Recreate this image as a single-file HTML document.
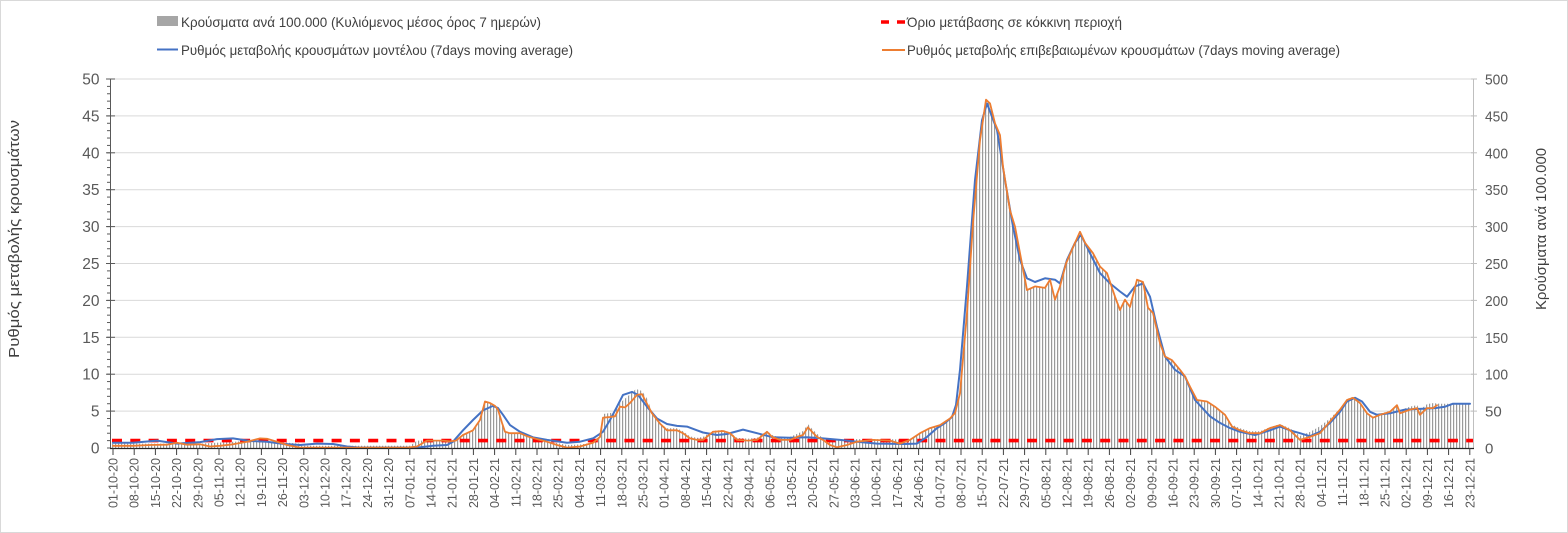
<!DOCTYPE html>
<html>
<head>
<meta charset="utf-8">
<style>
html,body{margin:0;padding:0;background:#fff;}
svg{display:block;font-family:"Liberation Sans","DejaVu Sans",sans-serif;}
</style>
</head>
<body>
<svg width="1568" height="533" viewBox="0 0 1568 533" xmlns="http://www.w3.org/2000/svg">
<defs>
  <pattern id="bars" patternUnits="userSpaceOnUse" x="112" y="0" width="3" height="20">
    <rect x="0" y="0" width="1.2" height="20" fill="#9a9a9a"/>
  </pattern>
  <pattern id="xt" patternUnits="userSpaceOnUse" x="112.5" y="448" width="21.2" height="7">
    <rect x="0" y="0" width="1" height="7" fill="#404040"/>
  </pattern>
  <pattern id="ymin" patternUnits="userSpaceOnUse" x="0" y="78.5" width="10" height="7.38">
    <rect x="0" y="0" width="10" height="1" fill="#595959"/>
  </pattern>
</defs>
<rect x="0.5" y="0.5" width="1567" height="532" fill="#fff" stroke="#d9d9d9" stroke-width="1"/>

<!-- gridlines -->
<g stroke="#d9d9d9" stroke-width="1">
  <line x1="111" y1="79" x2="1473" y2="79"/>
  <line x1="111" y1="115.9" x2="1473" y2="115.9"/>
  <line x1="111" y1="152.8" x2="1473" y2="152.8"/>
  <line x1="111" y1="189.7" x2="1473" y2="189.7"/>
  <line x1="111" y1="226.6" x2="1473" y2="226.6"/>
  <line x1="111" y1="263.5" x2="1473" y2="263.5"/>
  <line x1="111" y1="300.4" x2="1473" y2="300.4"/>
  <line x1="111" y1="337.3" x2="1473" y2="337.3"/>
  <line x1="111" y1="374.2" x2="1473" y2="374.2"/>
  <line x1="111" y1="411.1" x2="1473" y2="411.1"/>
</g>

<!-- bars -->
<polygon fill="url(#bars)" points="112,448 112,443.6 200,443.6 240,441.4 270,441.4 300,443.6 302,445.8 410,445.8 417,440.6 452,440.6 456,440.6 463,435.0 473,430.3 480,420.0 485,401.5 490,403.0 495,405.9 498,409.6 502,422.9 505,431.8 510,433.2 520,433.2 527,436.2 537,439.1 547,441.7 557,443.0 567,445.0 580,444.5 593,442.8 600,436.9 603,414 610,413 615,412 620,403 628,396 636,389 642,391 648,400 652,413.3 660,423.6 667,428.3 677,428.3 683,431.2 690,436.4 697,437.9 703,436.9 713,430.8 723,430.0 730,432.2 737,437.9 748,438.6 757,437.9 767,430.8 772,434.9 780,437.9 790,436.9 797,433.9 803,431.0 808,424.3 812,428.8 817,433.9 823,437.9 830,439.1 847,439.1 857,439.1 873,439.1 890,439.1 900,439.6 910,438.9 920,433.2 930,428.1 940,425.1 950,418.5 955,413 960,393.4 967,313.0 973,222.9 980,140.3 986,99.7 990,103.4 995,123.3 1000,135.1 1003,166.8 1010,210.4 1015,226.6 1020,253.2 1027,290.1 1035,286.4 1045,287.9 1050,279.7 1055,299.7 1060,286.4 1066,263.5 1075,242.8 1080,231.8 1085,242.8 1093,253.2 1100,266.5 1107,273.1 1115,296.7 1120,310.0 1125,299.7 1130,307.0 1137,279.7 1143,282.0 1148,307.8 1153,313.0 1160,343.2 1165,356.5 1172,360.2 1180,369.8 1185,376.4 1190,386.7 1197,400.0 1207,401.5 1215,406.7 1225,414.8 1232,424.6 1240,428.3 1250,431.2 1260,431.2 1270,427.1 1280,424.1 1290,428.3 1300,435.9 1310,431.9 1320,426.2 1330,418.4 1340,408.6 1347,399.0 1353,396.8 1360,402.0 1367,412.3 1373,416.7 1380,413.8 1390,410.8 1397,404.2 1400,410.3 1410,406.6 1417,405.1 1420,409.8 1427,404.1 1433,403.1 1440,403.7 1470,403.7 1471,448"/>

<!-- red threshold -->
<line x1="112" y1="440.6" x2="1473" y2="440.6" stroke="#ff0000" stroke-width="3.6" stroke-dasharray="10 8.3"/>

<!-- blue model line -->
<polyline fill="none" stroke="#4472c4" stroke-width="2" stroke-linejoin="round" stroke-linecap="round" points="113,442.8 133,442.8 157,440.6 177,443.6 200,442.1 217,439.1 233,438.4 250,441.0 267,441.7 283,443.9 300,445.0 317,443.6 333,444.0 347,446.5 360,447.6 417,447.6 433,445.8 447,445.0 453,441.7 463,430.3 473,420.0 483,410.4 493,405.9 498,408.1 503,414.8 510,425.1 520,431.8 533,437.3 547,439.9 567,442.8 580,441.7 593,438.4 603,431.8 610,420.0 617,406.7 623,394.9 632,391.9 638,394.9 647,406.7 657,418.5 667,424.0 677,425.9 687,426.6 697,430.3 703,432.5 717,435.0 727,434.0 743,429.6 757,433.2 773,437.3 790,437.7 807,437.3 823,438.4 840,439.9 857,441.7 877,443.6 897,443.9 905,444.0 917,443.6 927,436.9 937,428.1 945,423 952,417.0 956,405 960,369.8 967,286.4 975,180.1 982,120.3 987,103.4 992,116.6 997,129.9 1005,180.1 1013,226.6 1020,259.8 1027,278.3 1035,282.0 1045,278.3 1055,279.7 1060,283.4 1067,259.8 1075,242.8 1081,234.7 1090,253.2 1100,273.1 1110,283.4 1120,291.5 1127,296.7 1135,286.4 1143,283.4 1150,296.7 1157,327.0 1165,356.5 1175,369.8 1185,376.4 1195,400.0 1210,416.3 1220,422.9 1230,428.1 1240,431.8 1255,435.0 1270,430.3 1280,426.6 1290,430.3 1300,433.2 1310,436.2 1320,431.8 1330,422.9 1340,411.8 1347,401.5 1355,397.8 1362,401.5 1370,411.8 1377,414.8 1390,413.3 1405,409.6 1420,408.9 1435,408.1 1445,406.7 1453,403.7 1470,403.7"/>

<!-- orange confirmed line -->
<polyline fill="none" stroke="#ed7d31" stroke-width="1.8" stroke-linejoin="round" stroke-linecap="round" points="113,445.8 133,445.8 150,445.0 167,444.7 177,442.8 187,444.7 200,444.3 210,446.5 220,445.8 233,444.3 247,441.7 260,438.4 267,438.8 277,441.7 287,445.0 300,447.6 340,447.6 407,447.6 417,446.5 427,440.6 443,440.6 450,441.4 456,440.6 463,435.0 473,430.3 480,420.0 485,401.5 490,403.0 495,405.9 498,409.6 502,422.9 505,431.8 510,433.2 520,433.2 527,436.2 537,439.1 547,441.7 557,445.0 567,447.6 580,446.5 593,442.8 600,436.9 603,417.7 610,417.0 615,416.3 620,406.7 625,407.4 630,403.0 637,394.9 642,394.1 645,400.0 652,413.3 660,423.6 667,430.3 677,430.3 683,433.2 690,438.4 697,439.9 703,439.9 713,431.8 723,431.0 730,433.2 737,439.9 748,440.6 757,439.9 767,431.8 772,436.9 780,439.9 790,439.9 797,436.9 803,435.0 808,427.3 812,431.8 817,436.9 823,439.9 830,445.0 837,447.3 847,445.0 857,441.7 873,439.9 890,440.6 900,443.6 910,439.9 920,433.2 930,428.1 940,425.1 950,418.5 955,413 960,393.4 967,313.0 973,222.9 980,140.3 986,99.7 990,103.4 995,123.3 1000,135.1 1003,166.8 1010,210.4 1015,226.6 1020,253.2 1027,290.1 1035,286.4 1045,287.9 1050,279.7 1055,299.7 1060,286.4 1066,263.5 1075,242.8 1080,231.8 1085,242.8 1093,253.2 1100,266.5 1107,273.1 1115,296.7 1120,310.0 1125,299.7 1130,307.0 1137,279.7 1143,282.0 1148,307.8 1153,313.0 1160,343.2 1165,356.5 1172,360.2 1180,369.8 1185,376.4 1190,386.7 1197,400.0 1207,401.5 1215,406.7 1225,414.8 1232,426.6 1240,430.3 1250,433.2 1260,433.2 1270,428.1 1280,425.1 1290,430.3 1300,439.9 1310,436.9 1320,433.2 1330,421.4 1340,409.6 1347,400.0 1353,397.8 1360,403.0 1367,413.3 1373,417.7 1380,414.8 1390,411.8 1397,405.2 1400,413.3 1410,409.6 1417,408.1 1420,414.8 1427,408.1 1433,408.1 1437,405.2"/>

<!-- axes -->
<line x1="110.5" y1="79" x2="110.5" y2="448" stroke="#595959" stroke-width="1"/>
<rect x="107" y="78.5" width="3.5" height="370" fill="url(#ymin)"/>
<g stroke="#595959" stroke-width="1">
  <line x1="106" y1="79" x2="115" y2="79"/>
  <line x1="106" y1="115.9" x2="115" y2="115.9"/>
  <line x1="106" y1="152.8" x2="115" y2="152.8"/>
  <line x1="106" y1="189.7" x2="115" y2="189.7"/>
  <line x1="106" y1="226.6" x2="115" y2="226.6"/>
  <line x1="106" y1="263.5" x2="115" y2="263.5"/>
  <line x1="106" y1="300.4" x2="115" y2="300.4"/>
  <line x1="106" y1="337.3" x2="115" y2="337.3"/>
  <line x1="106" y1="374.2" x2="115" y2="374.2"/>
  <line x1="106" y1="411.1" x2="115" y2="411.1"/>
</g>
<line x1="1473.5" y1="79" x2="1473.5" y2="448" stroke="#bfbfbf" stroke-width="1"/>
<g stroke="#bfbfbf" stroke-width="1">
  <line x1="1471" y1="79" x2="1477" y2="79"/>
  <line x1="1471" y1="115.9" x2="1477" y2="115.9"/>
  <line x1="1471" y1="152.8" x2="1477" y2="152.8"/>
  <line x1="1471" y1="189.7" x2="1477" y2="189.7"/>
  <line x1="1471" y1="226.6" x2="1477" y2="226.6"/>
  <line x1="1471" y1="263.5" x2="1477" y2="263.5"/>
  <line x1="1471" y1="300.4" x2="1477" y2="300.4"/>
  <line x1="1471" y1="337.3" x2="1477" y2="337.3"/>
  <line x1="1471" y1="374.2" x2="1477" y2="374.2"/>
  <line x1="1471" y1="411.1" x2="1477" y2="411.1"/>
</g>
<line x1="110" y1="448.5" x2="1474" y2="448.5" stroke="#262626" stroke-width="1.3"/>
<rect x="112" y="448" width="1360" height="7" fill="url(#xt)"/>

<!-- left y labels -->
<g font-size="15.5" fill="#595959" text-anchor="end">
  <text x="99.5" y="453.5">0</text>
  <text x="99.5" y="416.6">5</text>
  <text x="99.5" y="379.7">10</text>
  <text x="99.5" y="342.8">15</text>
  <text x="99.5" y="305.9">20</text>
  <text x="99.5" y="269">25</text>
  <text x="99.5" y="232.1">30</text>
  <text x="99.5" y="195.2">35</text>
  <text x="99.5" y="158.3">40</text>
  <text x="99.5" y="121.4">45</text>
  <text x="99.5" y="84.5">50</text>
</g>
<!-- right y labels -->
<g font-size="15" fill="#595959">
  <text x="1485" y="453.5">0</text>
  <text x="1485" y="416.6">50</text>
  <text x="1485" y="379.7" textLength="23" lengthAdjust="spacingAndGlyphs">100</text>
  <text x="1485" y="342.8" textLength="23" lengthAdjust="spacingAndGlyphs">150</text>
  <text x="1485" y="305.9" textLength="23" lengthAdjust="spacingAndGlyphs">200</text>
  <text x="1485" y="269" textLength="23" lengthAdjust="spacingAndGlyphs">250</text>
  <text x="1485" y="232.1" textLength="23" lengthAdjust="spacingAndGlyphs">300</text>
  <text x="1485" y="195.2" textLength="23" lengthAdjust="spacingAndGlyphs">350</text>
  <text x="1485" y="158.3" textLength="23" lengthAdjust="spacingAndGlyphs">400</text>
  <text x="1485" y="121.4" textLength="23" lengthAdjust="spacingAndGlyphs">450</text>
  <text x="1485" y="84.5" textLength="23" lengthAdjust="spacingAndGlyphs">500</text>
</g>

<!-- axis titles -->
<text transform="translate(19,239) rotate(-90)" text-anchor="middle" font-size="15" fill="#404040" textLength="238" lengthAdjust="spacingAndGlyphs">Ρυθμός μεταβολής κρουσμάτων</text>
<text transform="translate(1546,229) rotate(-90)" text-anchor="middle" font-size="15" fill="#404040" textLength="162" lengthAdjust="spacingAndGlyphs">Κρούσματα ανά 100.000</text>

<!-- x labels -->
<g font-size="12.5" fill="#595959" text-anchor="end">
<text transform="translate(117.5,458) rotate(-90)">01-10-20</text>
<text transform="translate(138.7,458) rotate(-90)">08-10-20</text>
<text transform="translate(159.9,458) rotate(-90)">15-10-20</text>
<text transform="translate(181.1,458) rotate(-90)">22-10-20</text>
<text transform="translate(202.3,458) rotate(-90)">29-10-20</text>
<text transform="translate(223.5,458) rotate(-90)">05-11-20</text>
<text transform="translate(244.7,458) rotate(-90)">12-11-20</text>
<text transform="translate(265.9,458) rotate(-90)">19-11-20</text>
<text transform="translate(287.1,458) rotate(-90)">26-11-20</text>
<text transform="translate(308.3,458) rotate(-90)">03-12-20</text>
<text transform="translate(329.5,458) rotate(-90)">10-12-20</text>
<text transform="translate(350.7,458) rotate(-90)">17-12-20</text>
<text transform="translate(371.9,458) rotate(-90)">24-12-20</text>
<text transform="translate(393.1,458) rotate(-90)">31-12-20</text>
<text transform="translate(414.3,458) rotate(-90)">07-01-21</text>
<text transform="translate(435.5,458) rotate(-90)">14-01-21</text>
<text transform="translate(456.7,458) rotate(-90)">21-01-21</text>
<text transform="translate(477.9,458) rotate(-90)">28-01-21</text>
<text transform="translate(499.1,458) rotate(-90)">04-02-21</text>
<text transform="translate(520.3,458) rotate(-90)">11-02-21</text>
<text transform="translate(541.5,458) rotate(-90)">18-02-21</text>
<text transform="translate(562.7,458) rotate(-90)">25-02-21</text>
<text transform="translate(583.9,458) rotate(-90)">04-03-21</text>
<text transform="translate(605.1,458) rotate(-90)">11-03-21</text>
<text transform="translate(626.3,458) rotate(-90)">18-03-21</text>
<text transform="translate(647.5,458) rotate(-90)">25-03-21</text>
<text transform="translate(668.7,458) rotate(-90)">01-04-21</text>
<text transform="translate(689.9,458) rotate(-90)">08-04-21</text>
<text transform="translate(711.1,458) rotate(-90)">15-04-21</text>
<text transform="translate(732.3,458) rotate(-90)">22-04-21</text>
<text transform="translate(753.5,458) rotate(-90)">29-04-21</text>
<text transform="translate(774.7,458) rotate(-90)">06-05-21</text>
<text transform="translate(795.9,458) rotate(-90)">13-05-21</text>
<text transform="translate(817.1,458) rotate(-90)">20-05-21</text>
<text transform="translate(838.3,458) rotate(-90)">27-05-21</text>
<text transform="translate(859.5,458) rotate(-90)">03-06-21</text>
<text transform="translate(880.7,458) rotate(-90)">10-06-21</text>
<text transform="translate(901.9,458) rotate(-90)">17-06-21</text>
<text transform="translate(923.1,458) rotate(-90)">24-06-21</text>
<text transform="translate(944.3,458) rotate(-90)">01-07-21</text>
<text transform="translate(965.5,458) rotate(-90)">08-07-21</text>
<text transform="translate(986.7,458) rotate(-90)">15-07-21</text>
<text transform="translate(1007.9,458) rotate(-90)">22-07-21</text>
<text transform="translate(1029.1,458) rotate(-90)">29-07-21</text>
<text transform="translate(1050.3,458) rotate(-90)">05-08-21</text>
<text transform="translate(1071.5,458) rotate(-90)">12-08-21</text>
<text transform="translate(1092.7,458) rotate(-90)">19-08-21</text>
<text transform="translate(1113.9,458) rotate(-90)">26-08-21</text>
<text transform="translate(1135.1,458) rotate(-90)">02-09-21</text>
<text transform="translate(1156.3,458) rotate(-90)">09-09-21</text>
<text transform="translate(1177.5,458) rotate(-90)">16-09-21</text>
<text transform="translate(1198.7,458) rotate(-90)">23-09-21</text>
<text transform="translate(1219.9,458) rotate(-90)">30-09-21</text>
<text transform="translate(1241.1,458) rotate(-90)">07-10-21</text>
<text transform="translate(1262.3,458) rotate(-90)">14-10-21</text>
<text transform="translate(1283.5,458) rotate(-90)">21-10-21</text>
<text transform="translate(1304.7,458) rotate(-90)">28-10-21</text>
<text transform="translate(1325.9,458) rotate(-90)">04-11-21</text>
<text transform="translate(1347.1,458) rotate(-90)">11-11-21</text>
<text transform="translate(1368.3,458) rotate(-90)">18-11-21</text>
<text transform="translate(1389.5,458) rotate(-90)">25-11-21</text>
<text transform="translate(1410.7,458) rotate(-90)">02-12-21</text>
<text transform="translate(1431.9,458) rotate(-90)">09-12-21</text>
<text transform="translate(1453.1,458) rotate(-90)">16-12-21</text>
<text transform="translate(1474.3,458) rotate(-90)">23-12-21</text>
</g>

<!-- legend -->
<rect x="157" y="16" width="21" height="10" fill="#a6a6a6"/>
<text x="181" y="27" font-size="14" fill="#404040" textLength="360" lengthAdjust="spacingAndGlyphs">Κρούσματα ανά 100.000 (Κυλιόμενος μέσος όρος 7 ημερών)</text>
<line x1="157" y1="49.5" x2="178" y2="49.5" stroke="#4472c4" stroke-width="2"/>
<text x="181" y="55" font-size="14" fill="#404040" textLength="392" lengthAdjust="spacingAndGlyphs">Ρυθμός μεταβολής κρουσμάτων μοντέλου (7days moving average)</text>
<line x1="881" y1="22" x2="906" y2="22" stroke="#ff0000" stroke-width="3.6" stroke-dasharray="8 8"/>
<text x="907" y="27" font-size="14" fill="#404040" textLength="215" lengthAdjust="spacingAndGlyphs">Όριο μετάβασης σε κόκκινη περιοχή</text>
<line x1="882" y1="50" x2="905" y2="50" stroke="#ed7d31" stroke-width="2"/>
<text x="907" y="55" font-size="14" fill="#404040" textLength="433" lengthAdjust="spacingAndGlyphs">Ρυθμός μεταβολής επιβεβαιωμένων κρουσμάτων (7days moving average)</text>
</svg>
</body>
</html>
